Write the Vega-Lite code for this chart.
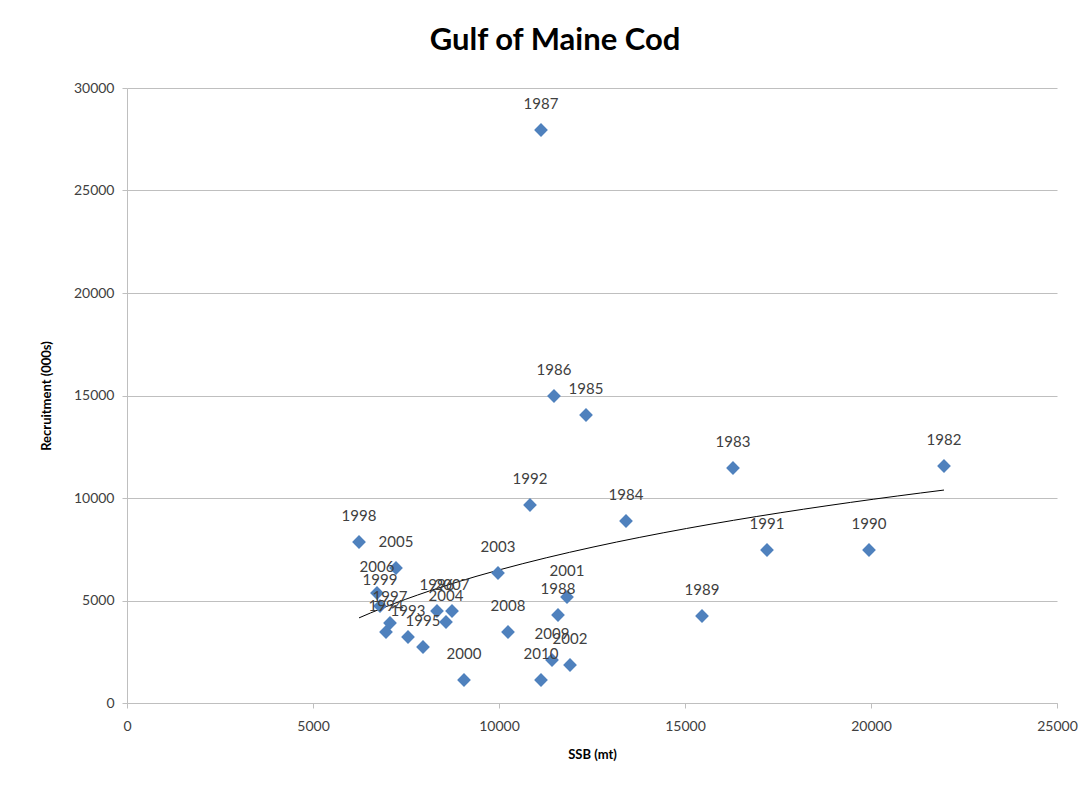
{
  "$schema": "https://vega.github.io/schema/vega-lite/v6.json",
  "width": 930,
  "height": 615,
  "autosize": {"type": "none"},
  "padding": {"left": 127, "top": 88, "right": 33, "bottom": 85},
  "background": "white",
  "title": {
    "text": "Gulf of Maine Cod",
    "font": "Lato",
    "fontSize": 31,
    "fontWeight": "bold",
    "color": "#000000",
    "anchor": "middle",
    "dx": -37,
    "offset": 24
  },
  "data": {
    "values": [
      {"year": "1982", "ssb": 21962, "rec": 11561},
      {"year": "1983", "ssb": 16290, "rec": 11463},
      {"year": "1984", "ssb": 13414, "rec": 8878},
      {"year": "1985", "ssb": 12339, "rec": 14049},
      {"year": "1986", "ssb": 11478, "rec": 14976},
      {"year": "1987", "ssb": 11129, "rec": 27951},
      {"year": "1988", "ssb": 11586, "rec": 4293},
      {"year": "1989", "ssb": 15457, "rec": 4244},
      {"year": "1990", "ssb": 19946, "rec": 7463},
      {"year": "1991", "ssb": 17204, "rec": 7463},
      {"year": "1992", "ssb": 10833, "rec": 9659},
      {"year": "1993", "ssb": 7554, "rec": 3220},
      {"year": "1994", "ssb": 6962, "rec": 3463},
      {"year": "1995", "ssb": 7957, "rec": 2732},
      {"year": "1996", "ssb": 8333, "rec": 4488},
      {"year": "1997", "ssb": 7070, "rec": 3902},
      {"year": "1998", "ssb": 6237, "rec": 7854},
      {"year": "1999", "ssb": 6801, "rec": 4732},
      {"year": "2000", "ssb": 9059, "rec": 1122},
      {"year": "2001", "ssb": 11828, "rec": 5171},
      {"year": "2002", "ssb": 11909, "rec": 1854},
      {"year": "2003", "ssb": 9973, "rec": 6341},
      {"year": "2004", "ssb": 8575, "rec": 3951},
      {"year": "2005", "ssb": 7231, "rec": 6585},
      {"year": "2006", "ssb": 6720, "rec": 5366},
      {"year": "2007", "ssb": 8737, "rec": 4488},
      {"year": "2008", "ssb": 10242, "rec": 3463},
      {"year": "2009", "ssb": 11425, "rec": 2098},
      {"year": "2010", "ssb": 11129, "rec": 1122}
    ]
  },
  "encoding": {
    "x": {
      "field": "ssb",
      "type": "quantitative",
      "scale": {"domain": [0, 25000], "nice": false},
      "axis": {
        "title": "SSB (mt)",
        "values": [0, 5000, 10000, 15000, 20000, 25000],
        "format": "d",
        "grid": false,
        "domainColor": "#bfbfbf",
        "tickColor": "#bfbfbf",
        "tickSize": 5,
        "labelFont": "Lato",
        "labelFontSize": 14,
        "labelColor": "#404040",
        "labelPadding": 11,
        "labelFlush": false,
        "titleFont": "Lato",
        "titleFontSize": 13,
        "titleFontWeight": "bold",
        "titleColor": "#000000",
        "titlePadding": 15
      }
    },
    "y": {
      "field": "rec",
      "type": "quantitative",
      "scale": {"domain": [0, 30000], "nice": false},
      "axis": {
        "title": "Recruitment (000s)",
        "values": [0, 5000, 10000, 15000, 20000, 25000, 30000],
        "format": "d",
        "grid": true,
        "gridColor": "#bfbfbf",
        "gridWidth": 1,
        "domainColor": "#bfbfbf",
        "tickColor": "#bfbfbf",
        "tickSize": 5,
        "labelFont": "Lato",
        "labelFontSize": 14,
        "labelColor": "#404040",
        "labelPadding": 8,
        "titleFont": "Lato",
        "titleFontSize": 13,
        "titleFontWeight": "bold",
        "titleColor": "#000000",
        "titlePadding": 20
      }
    }
  },
  "layer": [
    {
      "transform": [
        {"regression": "rec", "on": "ssb", "method": "log"}
      ],
      "mark": {"type": "line", "color": "#000000", "strokeWidth": 1}
    },
    {
      "mark": {"type": "point", "shape": "diamond", "filled": true, "size": 190, "color": "#4F81BD", "opacity": 1}
    },
    {
      "mark": {"type": "text", "dy": -26, "font": "Lato", "fontSize": 15, "color": "#404040"},
      "encoding": {"text": {"field": "year", "type": "nominal"}}
    }
  ],
  "config": {
    "view": {"stroke": null}
  }
}
